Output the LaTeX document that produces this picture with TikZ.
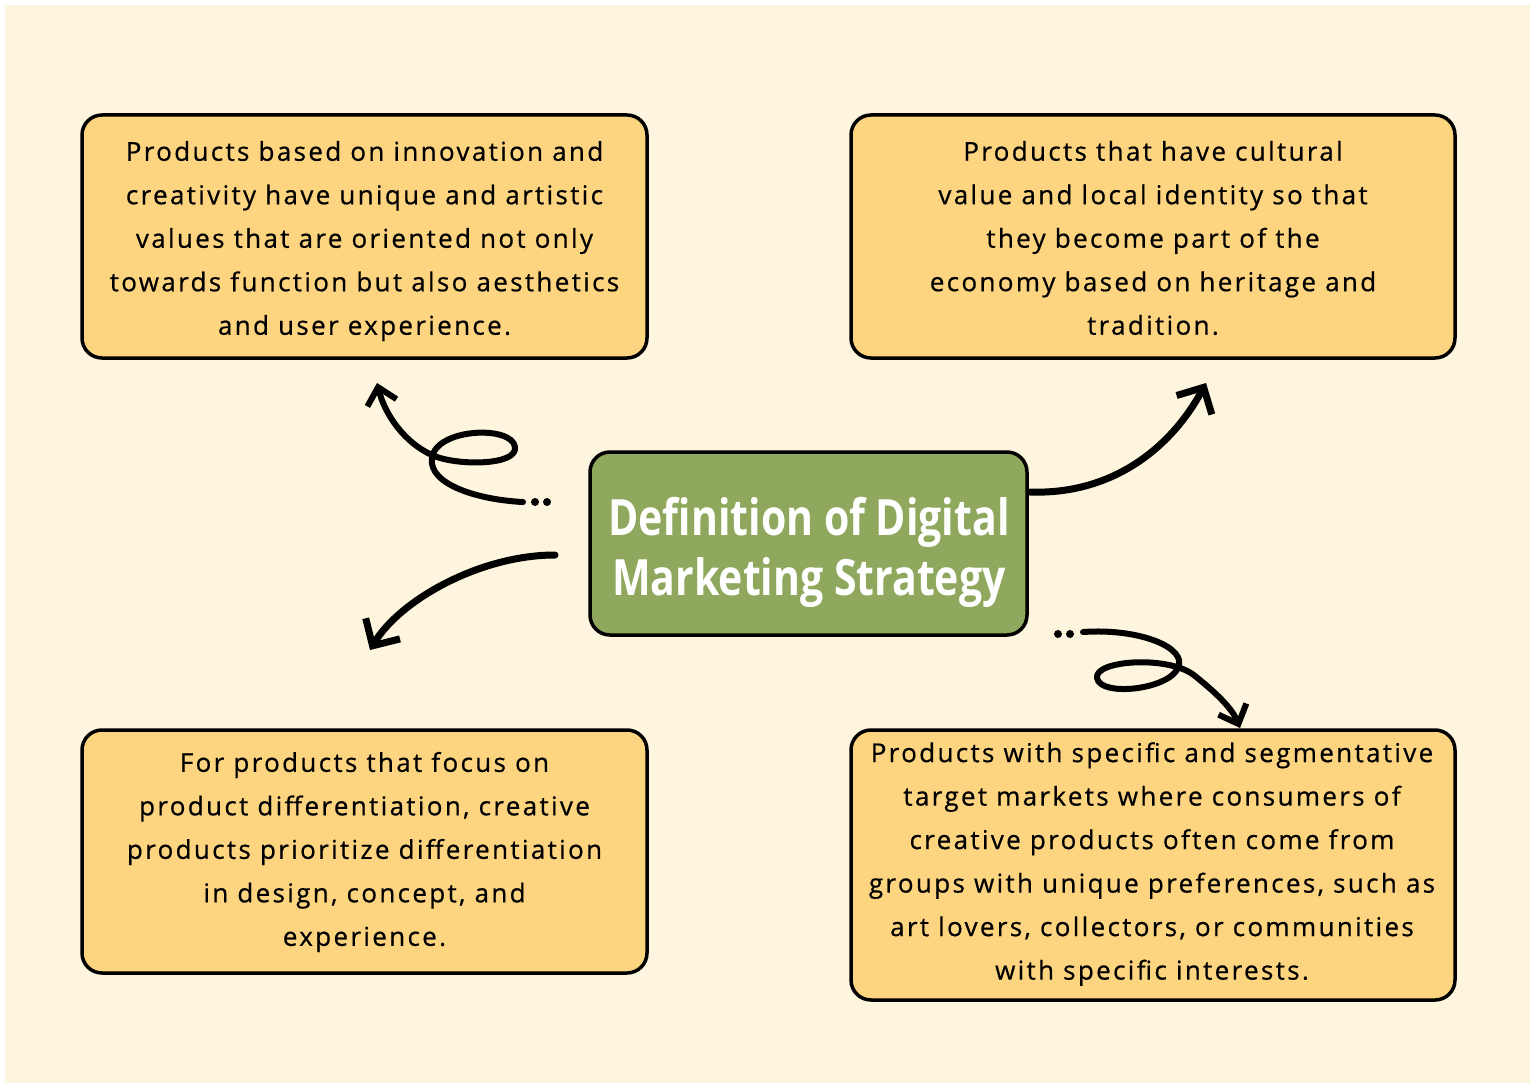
\documentclass[tikz,border=0pt]{standalone}
\usepackage{fontspec}
\setmainfont{Open Sans}[LetterSpace=9,FakeBold=0.6]
\newfontfamily\titlefont[FakeStretch=0.82]{Open Sans}
\usetikzlibrary{arrows.meta}
\definecolor{cream}{HTML}{FEF5DF}
\definecolor{boxfill}{HTML}{FDD480}
\definecolor{greenfill}{HTML}{8FA85E}
\tikzset{
  infobox/.style={draw=black, line width=3.5pt, fill=boxfill, rounded corners=20pt},
  infotext/.style={align=center, font=\fontsize{26}{43.5}\selectfont, text=black},
  titlebox/.style={draw=black, line width=3.5pt, fill=greenfill, rounded corners=20pt},
  curlyarrow/.style={line width=6pt, line cap=round, line join=round,
     -{Straight Barb[length=16pt,width=30pt,line width=6pt]}},
  brusharrow/.style={line width=7pt, line cap=round, line join=round,
     -{Straight Barb[length=20pt,width=40pt,line width=7pt]}},
  dotmark/.style={circle, fill=black, inner sep=0pt, minimum size=8pt}
}
\begin{document}
\begin{tikzpicture}[x=1pt,y=-1pt]
\useasboundingbox (0,0) rectangle (1535,1089);
\fill[white] (0,0) rectangle (1535,1089);
\fill[cream] (5,5) rectangle (1530,1083);

% boxes
\draw[infobox] (82,115) rectangle (647,358);
\draw[infobox] (851,115) rectangle (1455,358);
\draw[infobox] (82,730) rectangle (647,973);
\draw[infobox] (851,730) rectangle (1455,1000);
\draw[titlebox] (590,452) rectangle (1027,635);

\node[infotext] (tl) at (364.5,241) {Products based on innovation and\\creativity have unique and artistic\\values that are oriented not only\\towards function but also aesthetics\\and user experience.};
\node[infotext] (tr) at (1153,238) {Products that have cultural\\value and local identity so that\\they become part of the\\economy based on heritage and\\tradition.};
\node[infotext] (bl) at (364.5,852) {For products that focus on\\product differentiation, creative\\products prioritize differentiation\\in design, concept, and\\experience.};
\node[infotext] (br) at (1152,864) {Products with specific and segmentative\\target markets where consumers of\\creative products often come from\\groups with unique preferences, such as\\art lovers, collectors, or communities\\with specific interests.};
\node[align=center, text=white, font=\titlefont\bfseries\fontsize{50}{60}\selectfont] (center) at (809,552) {Definition of Digital\\Marketing Strategy};

% arrow 1 (to top-left)
\coordinate (a1s) at (523,502);
\coordinate (a1e) at (377,383);
\node[dotmark] (d1a) at (535,502) {};
\node[dotmark] (d1b) at (547,502) {};
\draw[curlyarrow] (a1s) .. controls (480,500) and (428,485) .. (432,458)
  .. controls (436,428) and (512,425) .. (515,447)
  .. controls (518,466) and (455,466) .. (432,455)
  .. controls (405,443) and (385,415) .. (a1e);

% arrow 2 (to bottom-left)
\coordinate (a2s) at (555,555);
\coordinate (a2e) at (370,650);
\draw[brusharrow] (a2s) .. controls (480,555) and (400,600) .. (a2e);

% arrow 3 (to top-right)
\coordinate (a3s) at (1030,492);
\coordinate (a3e) at (1206,383);
\draw[brusharrow] (a3s) .. controls (1110,495) and (1170,450) .. (a3e);

% arrow 4 (to bottom-right)
\coordinate (a4s) at (1083,632);
\coordinate (a4e) at (1240,728);
\node[dotmark] (d4a) at (1058,634) {};
\node[dotmark] (d4b) at (1070,634) {};
\draw[curlyarrow] (a4s) .. controls (1140,628) and (1188,648) .. (1178,668)
  .. controls (1168,690) and (1100,697) .. (1097,678)
  .. controls (1094,660) and (1170,655) .. (1195,676)
  .. controls (1215,692) and (1232,708) .. (a4e);
\end{tikzpicture}
\end{document}
